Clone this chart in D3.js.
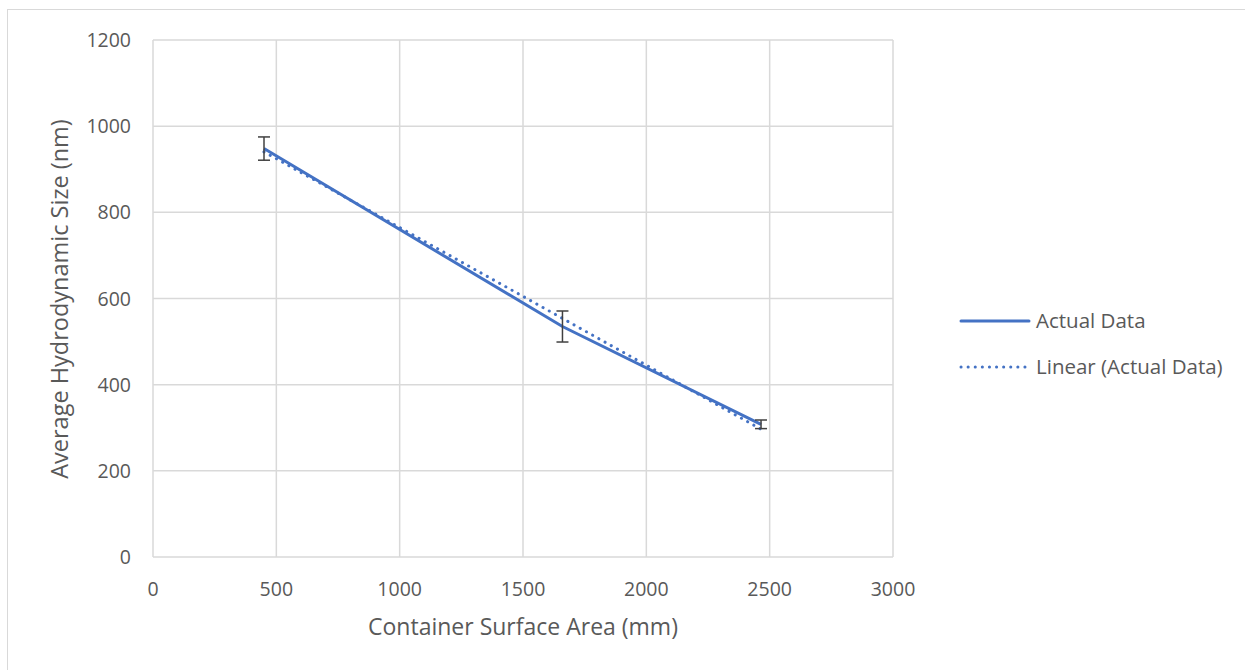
<!DOCTYPE html>
<html><head><meta charset="utf-8">
<script src="https://cdn.jsdelivr.net/npm/d3@7"></script>
<style>body{margin:0;background:#fff;} text{font-family:"Open Sans","Liberation Sans",sans-serif;fill:#595959;}</style>
</head><body><svg id="c" width="1245" height="670"></svg>
<script>
const xValues = [450, 1660, 2465];
const yValues = [948, 535, 308];
const yErrors = [27, 36, 10];
const xTicks = [0, 500, 1000, 1500, 2000, 2500, 3000];
const yTicks = [0, 200, 400, 600, 800, 1000, 1200];
const seriesNames = ["Actual Data", "Linear (Actual Data)"];
const xTitle = "Container Surface Area (mm)";
const yTitle = "Average Hydrodynamic Size (nm)";

const svg = d3.select("#c");
const color = "#4472c4";
svg.append("rect").attr("x",7.5).attr("y",9.5).attr("width",1250).attr("height",680)
  .attr("fill","none").attr("stroke","#d9d9d9");

const x = d3.scaleLinear().domain([0,3000]).range([153,893]);
const y = d3.scaleLinear().domain([0,1200]).range([557,40]);

const g = svg.append("g");
// gridlines
g.selectAll(".vg").data(xTicks).join("line")
  .attr("x1",d=>x(d)).attr("x2",d=>x(d)).attr("y1",y(0)).attr("y2",y(1200))
  .attr("stroke","#d9d9d9").attr("stroke-width",1.5);
g.selectAll(".hg").data(yTicks).join("line")
  .attr("y1",d=>y(d)).attr("y2",d=>y(d)).attr("x1",x(0)).attr("x2",x(3000))
  .attr("stroke","#d9d9d9").attr("stroke-width",1.5);

// tick labels
g.selectAll(".xl").data(xTicks).join("text")
  .attr("x",d=>x(d)).attr("y",596).attr("text-anchor","middle").attr("font-size",19.5).text(d=>d);
g.selectAll(".yl").data(yTicks).join("text")
  .attr("x",131).attr("y",d=>y(d)+7).attr("text-anchor","end").attr("font-size",19.5).text(d=>d);

// titles
svg.append("text").attr("x",523).attr("y",635).attr("text-anchor","middle").attr("font-size",23).text(xTitle);
svg.append("text").attr("transform","translate(68,299) rotate(-90)").attr("text-anchor","middle").attr("font-size",23.5).text(yTitle);

const pts = xValues.map((v,i)=>({x:v,y:yValues[i],e:yErrors[i]}));

// series line
g.append("path").datum(pts).attr("fill","none").attr("stroke",color).attr("stroke-width",3)
  .attr("d",d3.line().x(d=>x(d.x)).y(d=>y(d.y)));

// linear trendline (least squares)
const mx = d3.mean(xValues), my = d3.mean(yValues);
const slope = d3.sum(pts,p=>(p.x-mx)*(p.y-my))/d3.sum(pts,p=>(p.x-mx)**2);
const icpt = my - slope*mx;
const ext = d3.extent(xValues);
g.append("path").datum(ext.map(v=>({x:v,y:icpt+slope*v}))).attr("fill","none")
  .attr("stroke",color).attr("stroke-width",3).attr("stroke-dasharray","0.1 7").attr("stroke-linecap","round")
  .attr("d",d3.line().x(d=>x(d.x)).y(d=>y(d.y)));

// error bars
const eb = g.selectAll(".eb").data(pts).join("g").attr("stroke","#404040").attr("stroke-width",1.5);
eb.append("line").attr("x1",d=>x(d.x)).attr("x2",d=>x(d.x)).attr("y1",d=>y(d.y+d.e)).attr("y2",d=>y(d.y-d.e));
eb.append("line").attr("x1",d=>x(d.x)-6).attr("x2",d=>x(d.x)+6).attr("y1",d=>y(d.y+d.e)).attr("y2",d=>y(d.y+d.e));
eb.append("line").attr("x1",d=>x(d.x)-6).attr("x2",d=>x(d.x)+6).attr("y1",d=>y(d.y-d.e)).attr("y2",d=>y(d.y-d.e));

// legend
const leg = svg.append("g");
leg.append("line").attr("x1",961).attr("x2",1029).attr("y1",321).attr("y2",321)
  .attr("stroke",color).attr("stroke-width",3).attr("stroke-linecap","round");
leg.append("line").attr("x1",961).attr("x2",1029).attr("y1",367).attr("y2",367)
  .attr("stroke",color).attr("stroke-width",3).attr("stroke-dasharray","0.1 7").attr("stroke-linecap","round");
leg.append("text").attr("x",1036).attr("y",328).attr("font-size",20.5).text(seriesNames[0]);
leg.append("text").attr("x",1036).attr("y",374).attr("font-size",20.5).text(seriesNames[1]);
</script></body></html>
